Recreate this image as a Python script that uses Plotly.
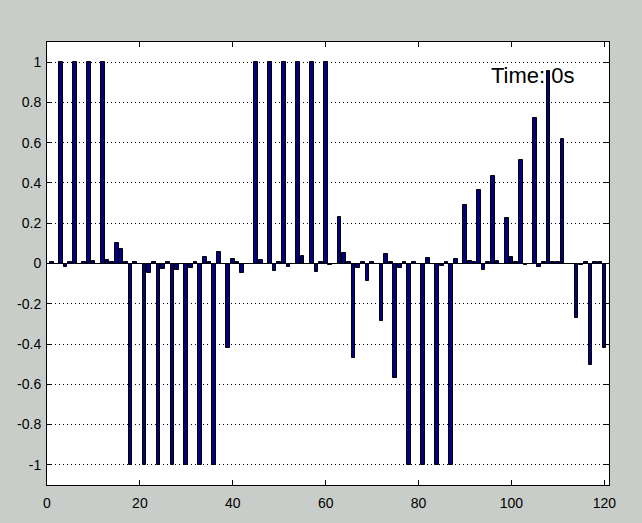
import plotly.graph_objects as go

# bar index (1..120) and values
x_index = list(range(1, 121))
values = [
    0.005, 0, 1, -0.015, 0.005, 1, 0, 0.005, 1, 0.01,
    0, 1, 0.015, 0.005, 0.1, 0.07, 0.005, -1, 0.005, 0,
    -1, -0.045, 0.005, -1, -0.025, 0.005, -1, -0.03, 0, -1,
    -0.02, 0.005, -1, 0.03, 0.005, -1, 0.055, 0, -0.42, 0.02,
    0.005, -0.045, 0, 0, 1, 0.015, 0, 1, -0.035, 0.005,
    1, -0.015, 0, 1, 0.035, 0, 1, -0.04, 0.005, 1,
    -0.008, 0, 0.23, 0.05, 0.005, -0.47, -0.02, 0.005, -0.085, 0.005,
    0, -0.285, 0.045, 0.005, -0.57, -0.02, 0.005, -1, 0.005, 0,
    -1, 0.025, 0, -1, -0.012, 0.005, -1, 0.02, 0, 0.29,
    0.012, 0.005, 0.365, -0.033, 0.005, 0.435, 0.012, 0, 0.225, 0.03,
    0.005, 0.515, -0.005, 0, 0.725, -0.015, 0.005, 0.955, 0.005, 0.005,
    0.62, 0, 0, -0.27, -0.005, 0.005, -0.505, 0.005, 0.005, -0.42,
]

x_tick_vals = [0, 20, 40, 60, 80, 100, 120]
x_tick_labels = ["0", "20", "40", "60", "80", "100", "120"]
y_tick_vals = [-1, -0.8, -0.6, -0.4, -0.2, 0, 0.2, 0.4, 0.6, 0.8, 1]
y_tick_labels = ["-1", "-0.8", "-0.6", "-0.4", "-0.2", "0", "0.2", "0.4", "0.6", "0.8", "1"]
time_label = "Time: 0s"

FONT = "Liberation Sans, Arial, Helvetica, sans-serif"

fig = go.Figure()
fig.add_trace(go.Bar(
    x=x_index, y=values, width=0.8,
    marker=dict(color="#000080", line=dict(color="black", width=1)),
    showlegend=False, hoverinfo="x+y",
))

fig.add_annotation(
    x=95.2, y=0.935, xref="x", yref="y", text=time_label, showarrow=False,
    xanchor="left", yanchor="middle",
    font=dict(family=FONT, size=22, color="black"),
)

axis_common = dict(
    showline=True, linecolor="black", linewidth=1, mirror="ticks",
    ticks="inside", ticklen=5, tickcolor="black", tickwidth=1,
    tickfont=dict(family=FONT, size=14, color="black"),
)

fig.update_xaxes(
    range=[0, 121], tickmode="array", tickvals=x_tick_vals, ticktext=x_tick_labels,
    showgrid=False, zeroline=False, ticklabelstandoff=5, **axis_common,
)
fig.update_yaxes(
    range=[-1.1, 1.1], tickmode="array", tickvals=y_tick_vals, ticktext=y_tick_labels,
    showgrid=True, gridcolor="black", gridwidth=1, griddash="1px,3px",
    zeroline=True, zerolinecolor="black", zerolinewidth=1, ticklabelstandoff=2,
    **axis_common,
)

fig.update_layout(
    width=642, height=523,
    margin=dict(l=47, r=33, t=42, b=38),
    paper_bgcolor="#c9cdc9", plot_bgcolor="white",
    bargap=0,
    font=dict(family=FONT, color="black"),
)

fig.write_html(
    "out.html",
    config={"displayModeBar": False},
    post_script="document.body.style.margin='0';document.body.style.background='#c9cdc9';",
)
